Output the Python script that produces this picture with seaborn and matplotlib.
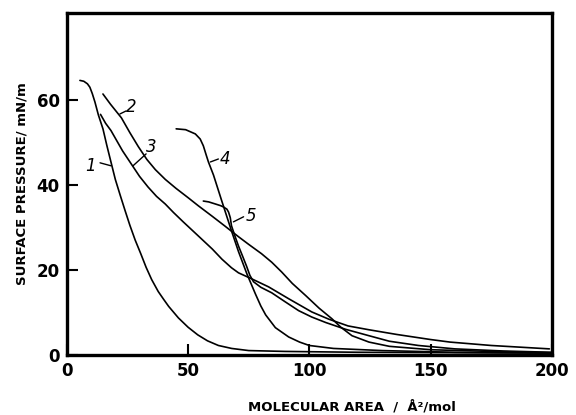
import matplotlib
matplotlib.use("Agg")
import matplotlib.pyplot as plt
import seaborn as sns
import pandas as pd

# ---- data ----
c1_x = [5.4, 7.0, 8.5, 9.5, 10.5, 11.6, 13.0, 14.9, 16.5, 18.2, 20.0, 22.0, 24.0, 26.0, 28.2, 30.5, 32.7, 35.0, 37.7, 40.0, 42.0, 46.0, 50.0, 54.0, 58.0, 62.5, 68.0, 75.0, 90.0, 120.0, 160.0, 200.0]
c1_y = [64.6, 64.4, 63.8, 63.0, 61.5, 59.5, 56.5, 53.2, 49.3, 45.4, 41.3, 37.6, 34.0, 30.5, 27.0, 23.8, 20.6, 17.7, 14.9, 13.0, 11.4, 8.7, 6.5, 4.7, 3.3, 2.2, 1.5, 1.0, 0.8, 0.6, 0.5, 0.4]

c2_x = [14.9, 18.0, 22.5, 26.0, 29.5, 33.0, 36.5, 40.6, 45.0, 50.0, 54.2, 60.0, 65.0, 70.8, 75.0, 80.3, 84.5, 88.6, 93.0, 98.6, 104.0, 109.3, 113.0, 117.6, 124.6, 133.0, 150.0, 175.0, 200.0]
c2_y = [61.4, 59.0, 55.8, 52.3, 49.0, 46.0, 43.6, 41.3, 39.2, 37.0, 35.1, 32.6, 30.4, 27.8, 26.0, 23.8, 21.8, 19.5, 16.8, 13.9, 11.0, 8.5, 6.5, 4.5, 3.0, 2.0, 1.2, 0.8, 0.5]

c3_x = [13.9, 16.0, 18.2, 20.0, 23.0, 26.5, 30.0, 33.5, 37.0, 40.6, 44.0, 48.0, 54.2, 60.0, 64.0, 67.9, 70.8, 76.2, 83.2, 91.5, 101.0, 108.0, 116.0, 124.6, 136.0, 150.0, 158.0, 175.0, 199.0]
c3_y = [56.6, 54.5, 52.8, 51.0, 48.0, 45.0, 42.0, 39.5, 37.3, 35.5, 33.5, 31.3, 28.0, 24.9, 22.5, 20.5, 19.3, 17.9, 16.0, 13.2, 10.1, 8.4, 6.8, 5.9, 4.8, 3.6, 3.0, 2.2, 1.4]

c4_x = [45.1, 49.0, 53.0, 55.0, 56.3, 57.5, 58.4, 60.5, 63.8, 67.9, 70.8, 74.3, 77.8, 80.0, 82.0, 86.0, 91.5, 96.0, 100.0, 110.0, 130.0, 160.0, 200.0]
c4_y = [53.2, 53.0, 52.0, 50.8, 49.2, 47.0, 45.4, 42.3, 36.4, 29.2, 24.3, 19.0, 14.3, 11.5, 9.4, 6.4, 4.2, 3.0, 2.2, 1.5, 1.0, 0.6, 0.4]

c5_x = [56.3, 58.5, 61.3, 63.5, 64.6, 66.0, 66.7, 67.4, 67.9, 69.3, 70.8, 72.5, 74.1, 75.5, 77.0, 80.0, 84.5, 90.0, 95.6, 101.0, 106.8, 115.0, 124.6, 133.0, 145.0, 160.0, 180.0, 200.0]
c5_y = [36.2, 36.0, 35.5, 35.1, 34.8, 34.3, 33.6, 32.3, 30.4, 28.0, 25.6, 23.2, 20.9, 18.7, 17.2, 15.9, 14.6, 12.5, 10.4, 8.9, 7.6, 6.0, 4.5, 3.2, 2.2, 1.4, 0.9, 0.6]

curve_names = ["1", "2", "3", "4", "5"]
# label text positions and leader-line endpoints
label_text = [(9.9, 44.5), (26.5, 58.4), (34.8, 49.0), (65.4, 46.1), (75.8, 32.7)]
leader_a = [(18.2, 44.5), (21.9, 56.7), (27.3, 44.5), (59.2, 45.4), (68.7, 31.3)]
leader_b = [(13.7, 45.2), (24.4, 57.4), (32.7, 47.3), (62.5, 46.1), (72.9, 32.5)]

x_ticks = [0, 50, 100, 150, 200]
y_ticks = [0, 20, 40, 60]

# ---- build long table ----
rows = []
for name, xs, ys in zip(curve_names, [c1_x, c2_x, c3_x, c4_x, c5_x], [c1_y, c2_y, c3_y, c4_y, c5_y]):
    for x, y in zip(xs, ys):
        rows.append({"curve": name, "area": x, "pressure": y})
df = pd.DataFrame(rows)

sns.set_style("ticks")
plt.rcParams["font.family"] = ["DejaVu Sans"]
plt.rcParams["text.color"] = "black"
plt.rcParams["axes.labelcolor"] = "black"
plt.rcParams["xtick.color"] = "black"
plt.rcParams["ytick.color"] = "black"

fig = plt.figure(figsize=(5.76, 4.15), dpi=100)
ax = fig.add_axes([0.116, 0.145, 0.842, 0.824])

sns.lineplot(data=df, x="area", y="pressure", hue="curve", units="curve",
             estimator=None, sort=False, palette=["black"] * 5, legend=False,
             linewidth=1.2, ax=ax)

ax.set_xlim(0, 200)
ax.set_ylim(0, 80.5)
ax.set_xticks(x_ticks)
ax.set_yticks(y_ticks)
ax.set_xticklabels([str(t) for t in x_ticks], fontsize=12, fontweight="bold", color="black")
ax.set_yticklabels([str(t) for t in y_ticks], fontsize=12, fontweight="bold", color="black")
ax.tick_params(direction="in", length=8, width=1.5, colors="black", pad=5)
for s in ax.spines.values():
    s.set_visible(True)
    s.set_linewidth(2.4)
    s.set_color("black")

ax.set_xlabel("")
ax.set_ylabel("SURFACE PRESSURE/ mN/m", fontsize=9.5, fontweight="bold", labelpad=6, color="black")
fig.text(0.611, 0.02, "MOLECULAR AREA  /  Å²/mol", fontsize=9.5, fontweight="bold",
         ha="center", va="center", color="black")

for name, (tx, ty), a, b in zip(curve_names, label_text, leader_a, leader_b):
    ax.plot([a[0], b[0]], [a[1], b[1]], color="black", linewidth=1.0)
    ax.text(tx, ty, name, fontsize=12, fontstyle="italic", ha="center", va="center", color="black")

fig.savefig("out.png", dpi=100, facecolor="white")
